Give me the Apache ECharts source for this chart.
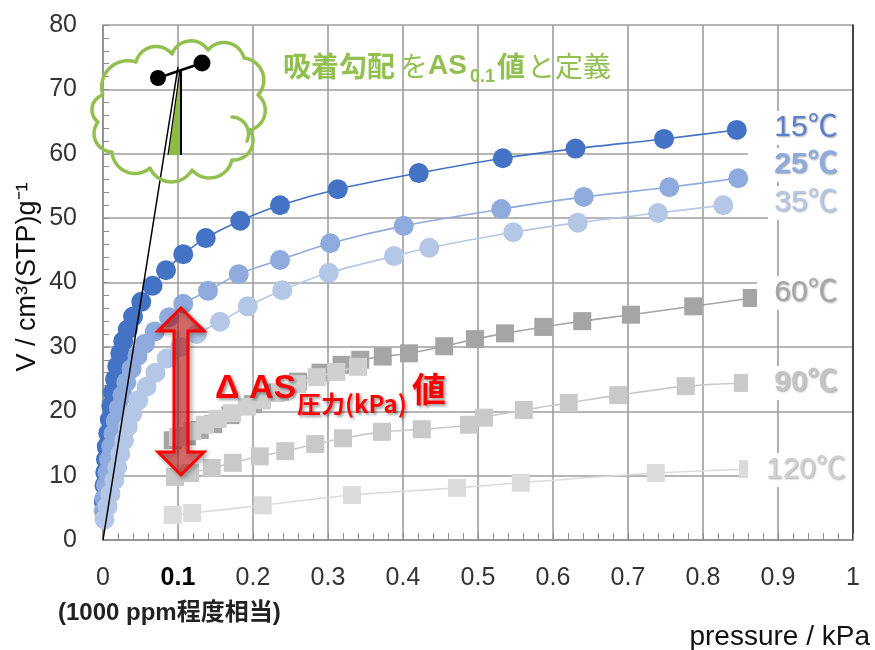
<!DOCTYPE html>
<html><head><meta charset="utf-8">
<script src="https://cdn.jsdelivr.net/npm/echarts@6/dist/echarts.min.js"></script>
<style>html,body{margin:0;padding:0;background:#fff}#c{width:875px;height:650px}</style>
</head><body><div id="c"></div>
<script>
// ---- data (pressure kPa, V cm3(STP)/g) ----
const xTickLabels = ['0','0.1','0.2','0.3','0.4','0.5','0.6','0.7','0.8','0.9','1'];
const yTickLabels = ['0','10','20','30','40','50','60','70','80'];
const seriesNames = ['15℃','25℃','35℃','60℃','90℃','120℃'];
const s15 = [[0.001,6],[0.002,8.5],[0.003,10.5],[0.004,12.5],[0.005,14.5],[0.007,16.6],[0.009,18.7],[0.011,20.8],[0.013,22.9],[0.016,25],[0.019,27],[0.023,29],[0.027,30.9],[0.033,32.7],[0.04,34.7],[0.051,37],[0.066,39.5],[0.084,41.9],[0.107,44.4],[0.137,46.9],[0.183,49.6],[0.236,52.0],[0.313,54.5],[0.421,57.0],[0.533,59.3],[0.63,60.8],[0.748,62.3],[0.845,63.7]];
const s25 = [[0.001,4.5],[0.002,6.5],[0.004,8.5],[0.006,10.5],[0.008,12.5],[0.011,14.5],[0.014,16.5],[0.017,18.5],[0.021,20.5],[0.026,22.5],[0.031,24.5],[0.038,26.6],[0.046,28.6],[0.056,30.5],[0.069,32.4],[0.088,34.6],[0.107,36.7],[0.14,38.7],[0.181,41.3],[0.236,43.5],[0.303,46.1],[0.401,48.8],[0.531,51.4],[0.641,53.3],[0.755,54.8],[0.847,56.2]];
const s35 = [[0.002,3.2],[0.006,5.2],[0.01,7.2],[0.015,9.3],[0.019,11.3],[0.023,13.4],[0.028,15.5],[0.033,17.6],[0.039,19.6],[0.047,21.7],[0.058,23.8],[0.07,26],[0.085,28.2],[0.103,30],[0.125,32],[0.156,33.9],[0.193,36.3],[0.239,38.8],[0.301,41.5],[0.388,44.1],[0.435,45.4],[0.547,47.8],[0.633,49.3],[0.74,50.8],[0.827,52.0]];
const s60 = [[0.093,15.5],[0.112,16.1],[0.129,17.1],[0.147,18.0],[0.17,19.4],[0.2,21.1],[0.23,22.9],[0.26,24.6],[0.29,26],[0.318,27.2],[0.343,28.0],[0.373,28.5],[0.408,29.0],[0.455,30.1],[0.496,31.2],[0.536,32.1],[0.587,33.1],[0.639,34.0],[0.704,35.0],[0.787,36.3],[0.865,37.6]];
const s60b = [[0.1,16],[0.119,16.9],[0.136,17.9],[0.153,18.8],[0.172,19.7],[0.192,20.7],[0.212,21.7],[0.236,23],[0.259,24.2],[0.285,25.3],[0.311,26.1],[0.34,26.9]];
const s90 = [[0.096,9.8],[0.116,10.4],[0.145,11.2],[0.173,12.0],[0.209,13.0],[0.243,13.8],[0.283,14.9],[0.32,15.8],[0.372,16.8],[0.425,17.2],[0.488,17.9],[0.508,19.0],[0.561,20.2],[0.621,21.3],[0.687,22.5],[0.777,23.9],[0.853,24.4]];
const s120 = [[0.093,3.9],[0.119,4.2],[0.213,5.4],[0.332,7.0],[0.472,8.1],[0.557,8.9],[0.737,10.4],[0.86,11.0]];
const tangent = [[0,0],[0.1,73.5]];

const chart = echarts.init(document.getElementById('c'), null, {renderer:'canvas'});
const LAT = "'Liberation Sans', Arial, sans-serif";
const LATCJK = "'Liberation Sans', Arial, 'Noto Sans CJK JP', sans-serif";
const CJK = "'Noto Sans CJK JP', 'Noto Sans CJK SC', sans-serif";

function ser(name, data, color, symbol, size, z){
  return {name, type:'line', data, smooth:0.3, symbol, symbolSize:size, z,
    itemStyle:{color, opacity:1}, lineStyle:{color, width:1.6}, emphasis:{disabled:true}, animation:false};
}

// cloud outline built from arcs
function arcPts(A,B,k){
  const dx=B[0]-A[0], dy=B[1]-A[1], c=Math.hypot(dx,dy);
  const r=k*c, h=Math.sqrt(Math.max(r*r-c*c/4,0));
  const nx=-dy/c, ny=dx/c;
  const C=[(A[0]+B[0])/2+nx*h,(A[1]+B[1])/2+ny*h];
  const a0=Math.atan2(A[1]-C[1],A[0]-C[0]);
  let d=Math.atan2(B[1]-C[1],B[0]-C[0])-a0;
  while(d>Math.PI) d-=2*Math.PI; while(d<=-Math.PI) d+=2*Math.PI;
  const pts=[]; for(let i=0;i<=16;i++){const a=a0+d*i/16; pts.push([C[0]+r*Math.cos(a),C[1]+r*Math.sin(a)]);}
  return pts;
}
const cloudJ=[[103,95],[136,62],[172,54],[208,50],[244,58],[258,95],[250,130],[232,160],[192,170],[150,168],[112,152],[98,122]];
let cloud=[];
for(let i=0;i<cloudJ.length;i++){cloud=cloud.concat(arcPts(cloudJ[i],cloudJ[(i+1)%cloudJ.length],0.56));}
const curl=arcPts([232,117],[247,141],0.6);

const GREEN='#92C050';
function txt(t,x,y,size,weight,color,fam,extra){
  return {type:'text',x,y,z:120,style:Object.assign({text:t,fill:color,fontSize:size,fontWeight:weight,fontFamily:fam,align:'left',verticalAlign:'middle'},extra||{})};
}
const labelShadow={textShadowColor:'rgba(0,0,0,0.35)',textShadowBlur:2,textShadowOffsetX:1,textShadowOffsetY:1};
const rightLabels=[
  {t:seriesNames[0],cy:128,left:760,c:'#5A7FCB',w:'normal'},
  {t:seriesNames[1],cy:165,left:748,c:'#8FAADC',w:'bold'},
  {t:seriesNames[2],cy:203,left:768,c:'#B4C7E7',w:'normal'},
  {t:seriesNames[3],cy:293,left:757,c:'#A5A5A5',w:'normal'},
  {t:seriesNames[4],cy:383,left:748,c:'#C4C4C4',w:'bold'},
  {t:seriesNames[5],cy:470,left:748,c:'#D0D0D0',w:'normal'}
];
const graphics=[];
rightLabels.forEach(l=>{
  graphics.push({type:'rect',z:110,shape:{x:l.left,y:l.cy-17,width:852-l.left,height:34},style:{fill:'#fff'}});
  graphics.push({type:'text',x:806,y:l.cy,z:120,style:Object.assign({text:l.t,fill:l.c,fontSize:30,fontWeight:l.w,fontFamily:LATCJK,align:'center',verticalAlign:'middle'},labelShadow)});
});
// cloud
graphics.push({type:'polyline',z:115,shape:{points:cloud},style:{stroke:GREEN,lineWidth:3.5,fill:null,lineJoin:'round'}});
graphics.push({type:'polyline',z:115,shape:{points:curl},style:{stroke:GREEN,lineWidth:3.5,fill:null,lineCap:'round'}});
graphics.push({type:'polygon',z:116,shape:{points:[[180,72],[168,155],[181,155]]},style:{fill:'#8DBB45',stroke:null}});
graphics.push({type:'line',z:117,shape:{x1:180,y1:70,x2:168,y2:155},style:{stroke:'#000',lineWidth:1.2}});
graphics.push({type:'line',z:117,shape:{x1:181,y1:70,x2:181,y2:155},style:{stroke:'#000',lineWidth:2}});
graphics.push({type:'line',z:117,shape:{x1:158,y1:78,x2:202,y2:63},style:{stroke:'#000',lineWidth:2.5}});
graphics.push({type:'circle',z:118,shape:{cx:158,cy:78,r:8},style:{fill:'#000'}});
graphics.push({type:'circle',z:118,shape:{cx:202,cy:63,r:8.5},style:{fill:'#000'}});
// green title
graphics.push(txt('吸着勾配',283,66,28,'bold',GREEN,CJK));
graphics.push(txt('を',400,66,28,'normal',GREEN,CJK));
graphics.push(txt('AS',428,66,28,'bold',GREEN,LAT));
graphics.push(txt('0.1',470,77,18,'bold',GREEN,LAT));
graphics.push(txt('値',497,66,28,'bold',GREEN,CJK));
graphics.push(txt('と定義',527,66,28,'normal',GREEN,CJK));
// red arrow
graphics.push({type:'polygon',z:112,shape:{points:[[181,308],[204,331],[188,331],[188,452],[204,452],[181,475],[158,452],[174,452],[174,331],[158,331]]},
  style:{fill:'rgba(215,40,40,0.6)',stroke:'#FF0000',lineWidth:3,lineJoin:'miter',shadowBlur:5,shadowColor:'rgba(0,0,0,0.35)',shadowOffsetX:2,shadowOffsetY:2}});
graphics.push({type:'line',z:113,shape:{x1:178,y1:331,x2:178,y2:452},style:{stroke:'rgba(150,60,60,0.5)',lineWidth:1}});
const redShadow={textShadowColor:'rgba(0,0,0,0.4)',textShadowBlur:3,textShadowOffsetX:2,textShadowOffsetY:2};
graphics.push(txt('Δ AS',215,389,34,'bold','#FF0000',LAT,redShadow));
graphics.push(txt('圧力(kPa)',297,404,24,'bold','#FF0000',CJK,redShadow));
graphics.push(txt('値',412,389,34,'bold','#FF0000',CJK,redShadow));
// axis texts
graphics.push(txt('(1000 ppm程度相当)',58,613,24,'bold','#222',LATCJK));
graphics.push({type:'text',x:870,y:637,z:120,style:{text:'pressure / kPa',fill:'#111',fontSize:28,fontFamily:LAT,align:'right',verticalAlign:'middle'}});
graphics.push({type:'text',x:28,y:277,rotation:Math.PI/2,z:120,style:{text:'V / cm³(STP)g⁻¹',fill:'#111',fontSize:27,fontFamily:LAT,align:'center',verticalAlign:'middle'}});

const axisCol='#8C8C8C', gridCol='#9E9E9E';
chart.setOption({
  animation:false,
  backgroundColor:'#fff',
  grid:{left:103,right:22,top:25,bottom:110,containLabel:false},
  xAxis:{type:'value',min:0,max:1,interval:0.1,
    axisLine:{lineStyle:{color:axisCol,width:1.5}},
    axisTick:{show:true,inside:true,length:7,lineStyle:{color:axisCol}},
    minorTick:{show:true,splitNumber:5,length:7,lineStyle:{color:axisCol}},
    splitLine:{show:true,lineStyle:{color:gridCol,width:1.6}},
    axisLabel:{margin:26,fontSize:25,fontFamily:LAT,color:'#333',
      formatter:(v)=>{const i=Math.round(v*10); const s=xTickLabels[i]; return i===1?'{b|'+s+'}':s;},
      rich:{b:{fontSize:25,fontWeight:'bold',color:'#000',fontFamily:LAT}}}
  },
  yAxis:[{type:'value',min:0,max:80,interval:10,
    axisLine:{show:true,lineStyle:{color:axisCol,width:1.5}},
    axisTick:{show:true,inside:true,length:6,lineStyle:{color:axisCol}},
    minorTick:{show:true,splitNumber:5,length:6,lineStyle:{color:axisCol}},
    splitLine:{show:true,lineStyle:{color:gridCol,width:1.6}},
    axisLabel:{margin:26,fontSize:25,fontFamily:LAT,color:'#333',formatter:(v)=>yTickLabels[Math.round(v/10)]}
  },{type:'value',min:0,max:80,interval:10,position:'right',
    axisLine:{show:true,lineStyle:{color:'#222',width:1.5}},axisTick:{show:false},axisLabel:{show:false},splitLine:{show:false}}],
  series:[
    ser(seriesNames[0],s15,'#4472C4','circle',20,3),
    ser(seriesNames[1],s25,'#8FAADC','circle',20,4),
    ser(seriesNames[2],s35,'#B4C7E7','circle',20,5),
    ser(seriesNames[3],s60,'#A5A5A5','rect',18,3),
    ser('60℃b',s60b,'#D0D0D0','rect',18,4),
    ser(seriesNames[4],s90,'#C9C9C9','rect',18,3),
    ser(seriesNames[5],s120,'#DBDBDB','rect',18,3),
    {type:'line',data:tangent,symbol:'none',z:8,lineStyle:{color:'#000',width:1.5},silent:true}
  ],
  graphic:graphics
});
</script></body></html>
